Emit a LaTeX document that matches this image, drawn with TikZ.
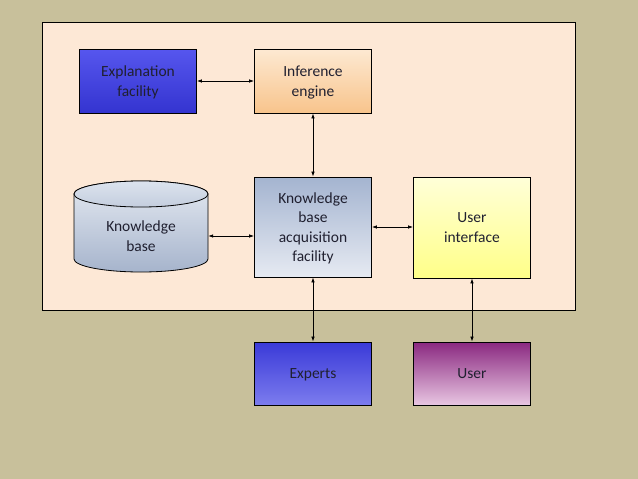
\documentclass[tikz,border=0pt]{standalone}
\usepackage{fontspec}
\setmainfont{Carlito}
\usetikzlibrary{arrows.meta}
\definecolor{bg}{HTML}{C8C09B}
\definecolor{peach}{HTML}{FDE8D6}
\definecolor{txt}{HTML}{202030}
\definecolor{cylT}{HTML}{E4E9F1}
\definecolor{cylB}{HTML}{A6B4CC}
\definecolor{capT}{HTML}{DCE3EE}
\definecolor{capB}{HTML}{C4CEDE}
\definecolor{explT}{HTML}{5656EE}
\definecolor{explB}{HTML}{3434D0}
\definecolor{infT}{HTML}{FDE9D2}
\definecolor{infB}{HTML}{F8C48C}
\definecolor{kbafT}{HTML}{A4B4D0}
\definecolor{kbafB}{HTML}{E6EAF2}
\definecolor{uiT}{HTML}{FFFFD8}
\definecolor{uiB}{HTML}{FFFF88}
\definecolor{expT}{HTML}{3A3AD8}
\definecolor{expB}{HTML}{7C7CEE}
\definecolor{userT}{HTML}{8A2880}
\definecolor{userB}{HTML}{E8C6E2}
\begin{document}
\begin{tikzpicture}[x=1pt,y=-1pt,
  box/.style={draw=black, line width=0.8pt, minimum width=117pt, minimum height=64pt,
    align=center, font=\fontsize{15.5}{19.5}\selectfont, text=txt, inner sep=2pt,
    text depth=-8pt},
  link/.style={{Latex[length=5pt,width=3.5pt]}-{Latex[length=5pt,width=3.5pt]}, line width=0.7pt}]
\useasboundingbox (0,0) rectangle (638,479);
\fill[bg] (0,0) rectangle (638,479);
\draw[fill=peach, line width=0.8pt] (42,22) rectangle (575,310);
% cylinder
\shade[top color=cylT, bottom color=cylB, draw=black, line width=0.8pt]
  (74,194) -- (74,259) arc[start angle=180, end angle=360, x radius=67pt, y radius=13pt]
  -- (208,194) arc[start angle=0, end angle=180, x radius=67pt, y radius=13pt] -- cycle;
\shade[top color=capT, bottom color=capB, draw=black, line width=0.8pt]
  (141,194) ellipse[x radius=67pt, y radius=13pt];
\node[align=center, font=\fontsize{15.5}{19.5}\selectfont, text=txt, minimum width=134pt, minimum height=20pt, inner sep=0pt] (kb) at (141,236) {Knowledge\\base};
\node[box, top color=explT, bottom color=explB] (expl) at (138,81) {Explanation\\facility};
\node[box, top color=infT, bottom color=infB] (inf) at (313,81) {Inference\\engine};
\node[box, minimum height=100pt, top color=kbafT, bottom color=kbafB] (kbaf) at (313,227) {Knowledge\\base\\acquisition\\facility};
\node[box, minimum height=101pt, top color=uiT, bottom color=uiB] (ui) at (472,227.5) {User\\interface};
\node[box, minimum height=63pt, top color=expT, bottom color=expB] (exp) at (313,373.5) {Experts};
\node[box, minimum height=63pt, top color=userT, bottom color=userB] (user) at (472,373.5) {User};
\draw[link] (expl.east) -- (inf.west);
\draw[link] (inf.south) -- (kbaf.north);
\draw[link] (kb.east) -- (kbaf.west |- kb.east);
\draw[link] (kbaf.east) -- (ui.west |- kbaf.east);
\draw[link] (kbaf.south) -- (exp.north);
\draw[link] (ui.south) -- (user.north);
\end{tikzpicture}
\end{document}
